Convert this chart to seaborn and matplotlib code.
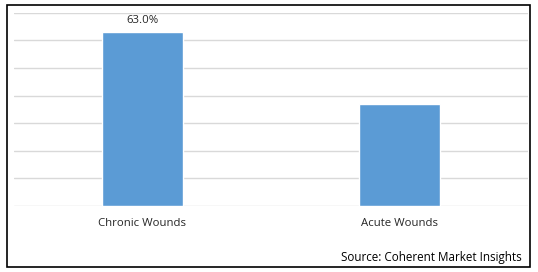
import matplotlib
matplotlib.use('Agg')
import matplotlib.pyplot as plt
import seaborn as sns
import pandas as pd
from matplotlib.patches import Rectangle

categories = ['Chronic Wounds', 'Acute Wounds']
shares = [63.0, 37.0]
labels = ['63.0%', '']

sns.set_style('white')
plt.rcParams['font.family'] = ['Open Sans', 'DejaVu Sans']

df = pd.DataFrame({'segment': categories, 'share': shares})

fig = plt.figure(figsize=(5.38, 2.72), dpi=100)
ax = fig.add_axes([14 / 538, 66 / 272, 514 / 538, (206 - 12.7) / 272])

sns.barplot(data=df, x='segment', y='share', order=categories,
            color='#5B9BD5', saturation=1, width=0.315, ax=ax, zorder=3)

ax.set_xlim(-0.5, 1.5)
ax.set_ylim(0, 70)
ax.set_yticks(range(0, 71, 10))
ax.yaxis.grid(True, color='#D9D9D9', linewidth=1, zorder=0)
ax.set_axisbelow(True)
ax.tick_params(axis='y', left=False, labelleft=False)
ax.tick_params(axis='x', bottom=False, labelsize=8.2, colors='#262626', pad=5)
ax.set_xlabel('')
ax.set_ylabel('')
for s in ax.spines.values():
    s.set_visible(False)

ax.bar_label(ax.containers[0], labels=labels, padding=4, fontsize=8.2,
             color='#262626')

fig.text(522 / 538, 1 - 257 / 272, 'Source: Coherent Market Insights',
         ha='right', va='center', fontsize=8.4, color='#000000')

fig.patches.append(Rectangle((7 / 538, 5 / 272), 523 / 538, 262 / 272,
                             transform=fig.transFigure, fill=False,
                             edgecolor='black', linewidth=1.2))

fig.savefig('out.png', dpi=100)
